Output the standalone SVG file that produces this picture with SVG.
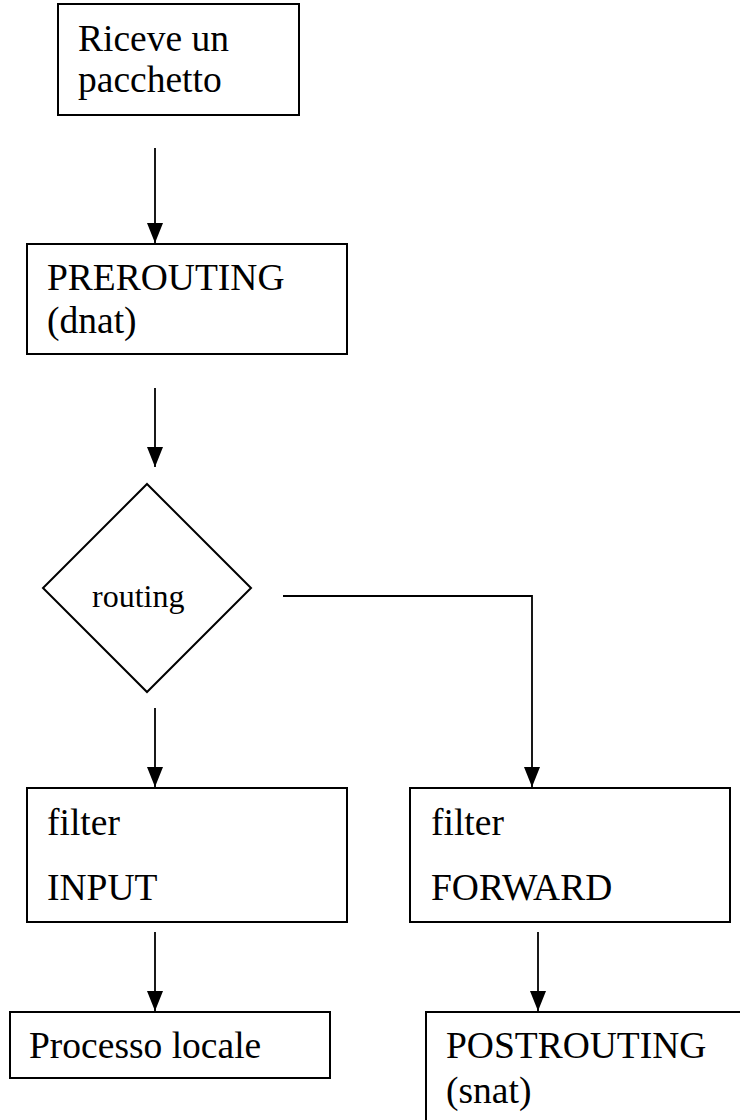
<svg xmlns="http://www.w3.org/2000/svg" width="740" height="1120" viewBox="0 0 740 1120">
  <style>
    .box { fill: #ffffff; stroke: #000000; stroke-width: 2; }
    .lbl { font-family: "Liberation Serif", "Times New Roman", serif; font-size: 37.5px; fill: #000000; }
    .small { font-size: 32px; }
    .wire { fill: none; stroke: #000000; stroke-width: 1.8; }
  </style>
  <defs>
    <marker id="down" markerWidth="16" markerHeight="20" refX="8" refY="20" orient="0" markerUnits="userSpaceOnUse" viewBox="0 0 16 20">
      <path d="M0,0 L16,0 L8,20 Z" fill="#000000"/>
    </marker>
  </defs>

  <g id="connectors">
    <path class="wire" d="M155,148 V243" marker-end="url(#down)"/>
    <path class="wire" d="M155,388 V467" marker-end="url(#down)"/>
    <path class="wire" d="M155,708 V787" marker-end="url(#down)"/>
    <path class="wire" d="M283,596 H532 V787" marker-end="url(#down)"/>
    <path class="wire" d="M155,932 V1011" marker-end="url(#down)"/>
    <path class="wire" d="M538,932 V1011" marker-end="url(#down)"/>
  </g>

  <g id="node-riceve">
    <rect class="box" x="58" y="4" width="241" height="111"/>
    <text class="lbl" x="78" y="51">Riceve un</text>
    <text class="lbl" x="78" y="92">pacchetto</text>
  </g>

  <g id="node-prerouting">
    <rect class="box" x="27" y="244" width="320" height="110"/>
    <text class="lbl" x="47" y="290">PREROUTING</text>
    <text class="lbl" x="47" y="333">(dnat)</text>
  </g>

  <g id="node-routing">
    <polygon class="box" points="147,484 251,588 147,692 43,588"/>
    <text class="lbl small" x="92" y="607">routing</text>
  </g>

  <g id="node-input">
    <rect class="box" x="27" y="788" width="320" height="134"/>
    <text class="lbl" x="47" y="835">filter</text>
    <text class="lbl" x="47" y="900">INPUT</text>
  </g>

  <g id="node-forward">
    <rect class="box" x="410" y="788" width="320" height="134"/>
    <text class="lbl" x="431" y="835">filter</text>
    <text class="lbl" x="431" y="900">FORWARD</text>
  </g>

  <g id="node-locale">
    <rect class="box" x="10" y="1012" width="320" height="66"/>
    <text class="lbl" x="29" y="1058">Processo locale</text>
  </g>

  <g id="node-postrouting">
    <rect class="box" x="426" y="1012" width="330" height="120"/>
    <text class="lbl" x="446" y="1058">POSTROUTING</text>
    <text class="lbl" x="446" y="1103">(snat)</text>
  </g>
</svg>
